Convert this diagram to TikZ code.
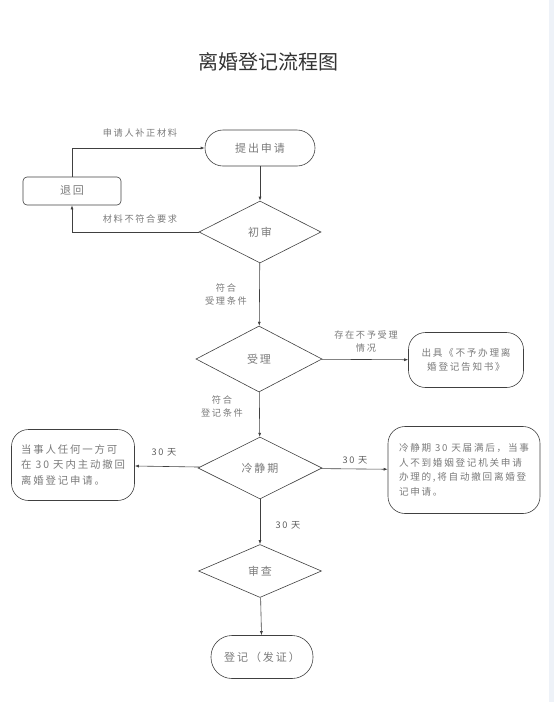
\documentclass[tikz,border=0pt]{standalone}
\usepackage{fontspec}
\setmainfont{Noto Sans CJK SC}
\newfontfamily\cjk[LetterSpace=18]{Noto Sans CJK SC}
\usetikzlibrary{shapes.geometric, arrows.meta, positioning}
\definecolor{linegray}{HTML}{404040}
\definecolor{textgray}{HTML}{7A7A7A}
\definecolor{titlegray}{HTML}{333333}
\definecolor{edgeblue}{HTML}{EEF2F8}

\begin{document}
\begin{tikzpicture}[x=1pt, y=-1pt, >={Latex[length=4pt,width=3pt]}, text=textgray]

    % Styles for boxes, decisions and connectors
    \tikzset{
        flowbox/.style={draw=linegray, line width=0.6pt, inner sep=0pt, align=center,
            font=\cjk\fontsize{11}{13}\selectfont},
        pill/.style={flowbox, rounded corners=18pt},
        notebox/.style={flowbox, rounded corners=17pt, align=left,
            font=\cjk\fontsize{9.6}{14.5}\selectfont},
        decision/.style={flowbox, diamond},
        flow/.style={draw=linegray, line width=0.6pt, ->},
        lbl/.style={font=\cjk\fontsize{9.2}{13}\selectfont, align=center, inner sep=1pt},
        days/.style={lbl, text=titlegray!80}
    }

    \useasboundingbox (0,0) rectangle (554,702);
    \fill[edgeblue] (549,0) rectangle (554,702);

    % ==========================================
    % Title
    % ==========================================
    \node[text=titlegray, font=\fontsize{20}{24}\selectfont] (title) at (268,62) {离婚登记流程图};

    % ==========================================
    % Nodes
    % ==========================================
    \node[pill, minimum width=110pt, minimum height=36pt] (apply) at (260,148) {提出申请};
    \node[flowbox, rounded corners=4pt, minimum width=98pt, minimum height=28pt] (back) at (72,191) {退回};
    \node[decision, minimum width=122pt, minimum height=62pt] (check) at (260,232) {初审};
    \node[decision, minimum width=126pt, minimum height=66pt] (accept) at (259,359) {受理};
    \node[notebox, align=center, minimum width=115pt, minimum height=55pt] (refuse) at (466,360)
        {出具《不予办理离\\婚登记告知书》};
    \node[decision, minimum width=124pt, minimum height=62pt] (calm) at (260,468) {冷静期};
    \node[notebox, font=\cjk\fontsize{10.4}{15.5}\selectfont, minimum width=123pt, minimum height=71pt] (withdraw) at (73,465)
        {当事人任何一方可\\在 30 天内主动撤回\\离婚登记申请。};
    \node[notebox, minimum width=152pt, minimum height=87pt] (expire) at (464,470)
        {冷静期 30 天届满后，当事\\人不到婚姻登记机关申请\\办理的,将自动撤回离婚登\\记申请。};
    \node[decision, minimum width=123pt, minimum height=53pt] (review) at (260,571) {审查};
    \node[pill, rounded corners=21pt, minimum width=102pt, minimum height=43pt] (register) at (262,657) {登记（发证）};

    % ==========================================
    % Connectors
    % ==========================================
    \draw[flow] (apply) -- (check);
    \draw[flow] (check.west) -| (back.south);
    \draw[flow] (back.north) |- (apply.west);
    \draw[flow] (check) -- (accept);
    \draw[flow] (accept) -- (refuse);
    \draw[flow] (accept) -- (calm);
    \draw[flow] (calm) -- (withdraw);
    \draw[flow] (calm) -- (expire);
    \draw[flow] (calm) -- (review);
    \draw[flow] (review) -- (register);

    % Connector labels
    \node[lbl] (lblfix) at (140,133) {申请人补正材料};
    \node[lbl] (lblbad) at (140,219) {材料不符合要求};
    \node[lbl] (lblok) at (226,294) {符合\\受理条件};
    \node[lbl] (lblno) at (366,341) {存在不予受理\\情况};
    \node[lbl] (lblreg) at (222,406) {符合\\登记条件};
    \node[days] (dayleft) at (164,452) {30 天};
    \node[days] (dayright) at (355,460) {30 天};
    \node[days] (daydown) at (288,525) {30 天};

\end{tikzpicture}
\end{document}
